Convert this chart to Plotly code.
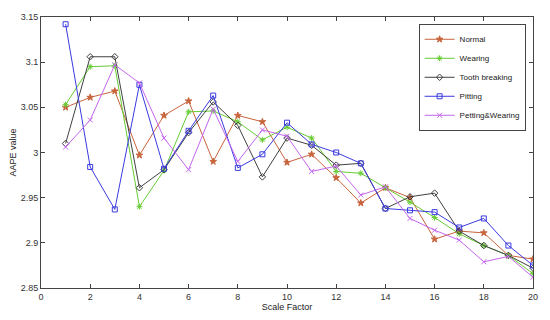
import plotly.graph_objects as go

scale = list(range(1, 21))
normal = [3.050, 3.061, 3.068, 2.997, 3.041, 3.057, 2.990, 3.041, 3.034, 2.989,
          2.998, 2.972, 2.944, 2.961, 2.950, 2.904, 2.913, 2.911, 2.886, 2.882]
wearing = [3.053, 3.095, 3.096, 2.940, 2.980, 3.045, 3.046, 3.034, 3.014, 3.028,
           3.016, 2.979, 2.977, 2.961, 2.945, 2.928, 2.910, 2.897, 2.886, 2.866]
tooth = [3.010, 3.106, 3.106, 2.961, 2.981, 3.022, 3.056, 3.030, 2.973, 3.016,
         3.008, 2.986, 2.988, 2.938, 2.951, 2.955, 2.913, 2.897, 2.886, 2.872]
pitting = [3.142, 2.984, 2.937, 3.075, 2.982, 3.024, 3.063, 2.983, 2.998, 3.033,
           3.009, 3.000, 2.988, 2.938, 2.936, 2.934, 2.917, 2.927, 2.897, 2.875]
pw = [3.006, 3.036, 3.097, 3.077, 3.016, 2.981, 3.048, 2.990, 3.025, 3.018,
      2.979, 2.985, 2.953, 2.962, 2.927, 2.914, 2.903, 2.879, 2.885, 2.862]

series = [
    ("Normal", normal, "#c8643c", "star", 5),
    ("Wearing", wearing, "#66cc33", "asterisk-open", 5),
    ("Tooth breaking", tooth, "#404040", "diamond-open", 5),
    ("Pitting", pitting, "#3a3ae0", "square-open", 5),
    ("Petting&Wearing", pw, "#c466ee", "x-thin-open", 5),
]

fig = go.Figure()
for name, ys, color, sym, sz in series:
    fig.add_trace(go.Scatter(
        x=scale, y=ys, name=name, mode="lines+markers",
        line=dict(color=color, width=1),
        marker=dict(symbol=sym, size=sz, color=color,
                    line=dict(color=color, width=1)),
    ))

axis_common = dict(
    showgrid=False, zeroline=False, showline=True, linecolor="#444",
    linewidth=1, mirror="ticks", ticks="inside", ticklen=4, tickcolor="#444",
    ticklabeloverflow="allow",
    tickfont=dict(family="Liberation Sans, Arial", size=9, color="#333"),
)
fig.update_layout(
    width=550, height=320,
    margin=dict(l=38, r=13, t=12, b=30),
    paper_bgcolor="white", plot_bgcolor="white",
    font=dict(family="Liberation Sans, Arial", size=9, color="#333"),
    xaxis=dict(range=[0, 20], tickmode="array", tickvals=list(range(0, 21, 2)),
               title=dict(text="Scale Factor", standoff=0,
                          font=dict(size=9, color="#222")),
               **axis_common),
    yaxis=dict(range=[2.85, 3.15], tickmode="array",
               tickvals=[2.85, 2.9, 2.95, 3.0, 3.05, 3.1, 3.15],
               ticktext=["2.85", "2.9", "2.95", "3", "3.05", "3.1", "3.15"],
               title=dict(text="AAPE value", standoff=2,
                          font=dict(size=9, color="#222")),
               **axis_common),
    legend=dict(x=0.985, y=0.975, xanchor="right", yanchor="top",
                bgcolor="white", bordercolor="#444", borderwidth=1,
                font=dict(size=8, color="#222"), tracegroupgap=0,
                itemwidth=30),
    showlegend=True,
)

fig.write_html("out.html", config={"displayModeBar": False},
               post_script="document.body.style.margin='0';document.body.style.overflow='hidden';")
